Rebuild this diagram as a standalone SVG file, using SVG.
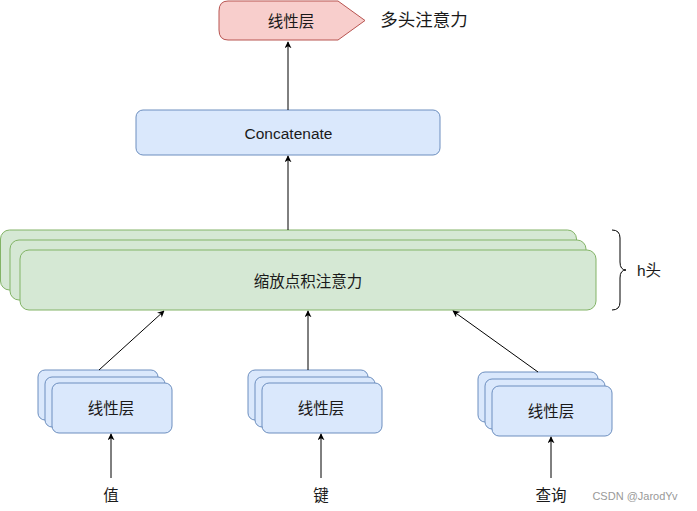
<svg xmlns="http://www.w3.org/2000/svg" width="697" height="511" viewBox="0 0 697 511">
<defs>
<marker id="arr" viewBox="0 0 10 10" refX="9" refY="5" markerWidth="7" markerHeight="7" orient="auto" markerUnits="userSpaceOnUse"><path d="M0,0 L10,5 L0,10 L3,5 Z" fill="#000"/></marker>
<style>
.t{font-family:"Liberation Sans","Noto Sans CJK SC",sans-serif;font-size:15.5px;fill:#1a1a1a;text-anchor:middle;dominant-baseline:central}
.b{fill:#dae8fc;stroke:#6c8ebf;stroke-width:1}
.g{fill:#d5e8d4;stroke:#82b366;stroke-width:1}
.c{stroke:#000;stroke-width:1;fill:none;marker-end:url(#arr)}
</style>
</defs>
<rect width="697" height="511" fill="#fff"/>
<g id="output">
<path d="M228,1 L338,1 L365,20.5 L338,40 L228,40 Q219,40 219,30 L219,11 Q219,1 228,1 Z" fill="#f8cecc" stroke="#b85450"/>
<text class="t" x="291" y="21">线性层</text>
</g>
<g id="mha-label"><text class="t" x="424" y="20" style="font-size:17.5px">多头注意力</text></g>
<g id="concat">
<rect x="136" y="110" width="304" height="45" rx="7" class="b"/>
<text class="t" x="288.5" y="133">Concatenate</text>
</g>
<g id="attention">
<rect x="0.5" y="230" width="576" height="60" rx="9" class="g"/>
<rect x="10" y="240" width="576" height="60" rx="9" class="g"/>
<rect x="20" y="250" width="576" height="60" rx="9" class="g"/>
<text class="t" x="308" y="281">缩放点积注意力</text>
</g>
<g id="brace">
<path d="M612,230 Q620,230 620,238 L620,262 Q620,270 626,270 Q620,270 620,278 L620,302 Q620,310 612,310" fill="none" stroke="#000"/>
<text class="t" x="649" y="270">h头</text>
</g>
<g id="linear-v">
<rect x="38" y="370" width="120" height="50" rx="7" class="b"/>
<rect x="45" y="377" width="120" height="50" rx="7" class="b"/>
<rect x="52" y="383" width="120" height="50" rx="7" class="b"/>
<text class="t" x="111" y="408">线性层</text>
</g>
<g id="linear-k">
<rect x="248" y="370" width="120" height="50" rx="7" class="b"/>
<rect x="255" y="377" width="120" height="50" rx="7" class="b"/>
<rect x="262" y="383" width="120" height="50" rx="7" class="b"/>
<text class="t" x="321" y="408">线性层</text>
</g>
<g id="linear-q">
<rect x="478" y="372" width="120" height="50" rx="7" class="b"/>
<rect x="485" y="379" width="120" height="50" rx="7" class="b"/>
<rect x="492" y="386" width="120" height="50" rx="7" class="b"/>
<text class="t" x="551" y="411">线性层</text>
</g>
<g id="inputs">
<text class="t" x="111" y="495">值</text>
<text class="t" x="321" y="495">键</text>
<text class="t" x="551" y="495">查询</text>
</g>
<g id="connectors">
<line class="c" x1="288" y1="230" x2="288" y2="156"/>
<line class="c" x1="288" y1="110" x2="288" y2="42"/>
<line class="c" x1="99" y1="370" x2="164" y2="311"/>
<line class="c" x1="308" y1="370" x2="308" y2="311"/>
<line class="c" x1="538" y1="372" x2="453" y2="311"/>
<line class="c" x1="111" y1="478" x2="111" y2="434"/>
<line class="c" x1="321" y1="478" x2="321" y2="434"/>
<line class="c" x1="551" y1="478" x2="551" y2="437"/>
</g>
<text x="635" y="496" style="font-family:'Liberation Sans',sans-serif;font-size:11px;fill:#999;text-anchor:middle;dominant-baseline:central">CSDN @JarodYv</text>
</svg>
